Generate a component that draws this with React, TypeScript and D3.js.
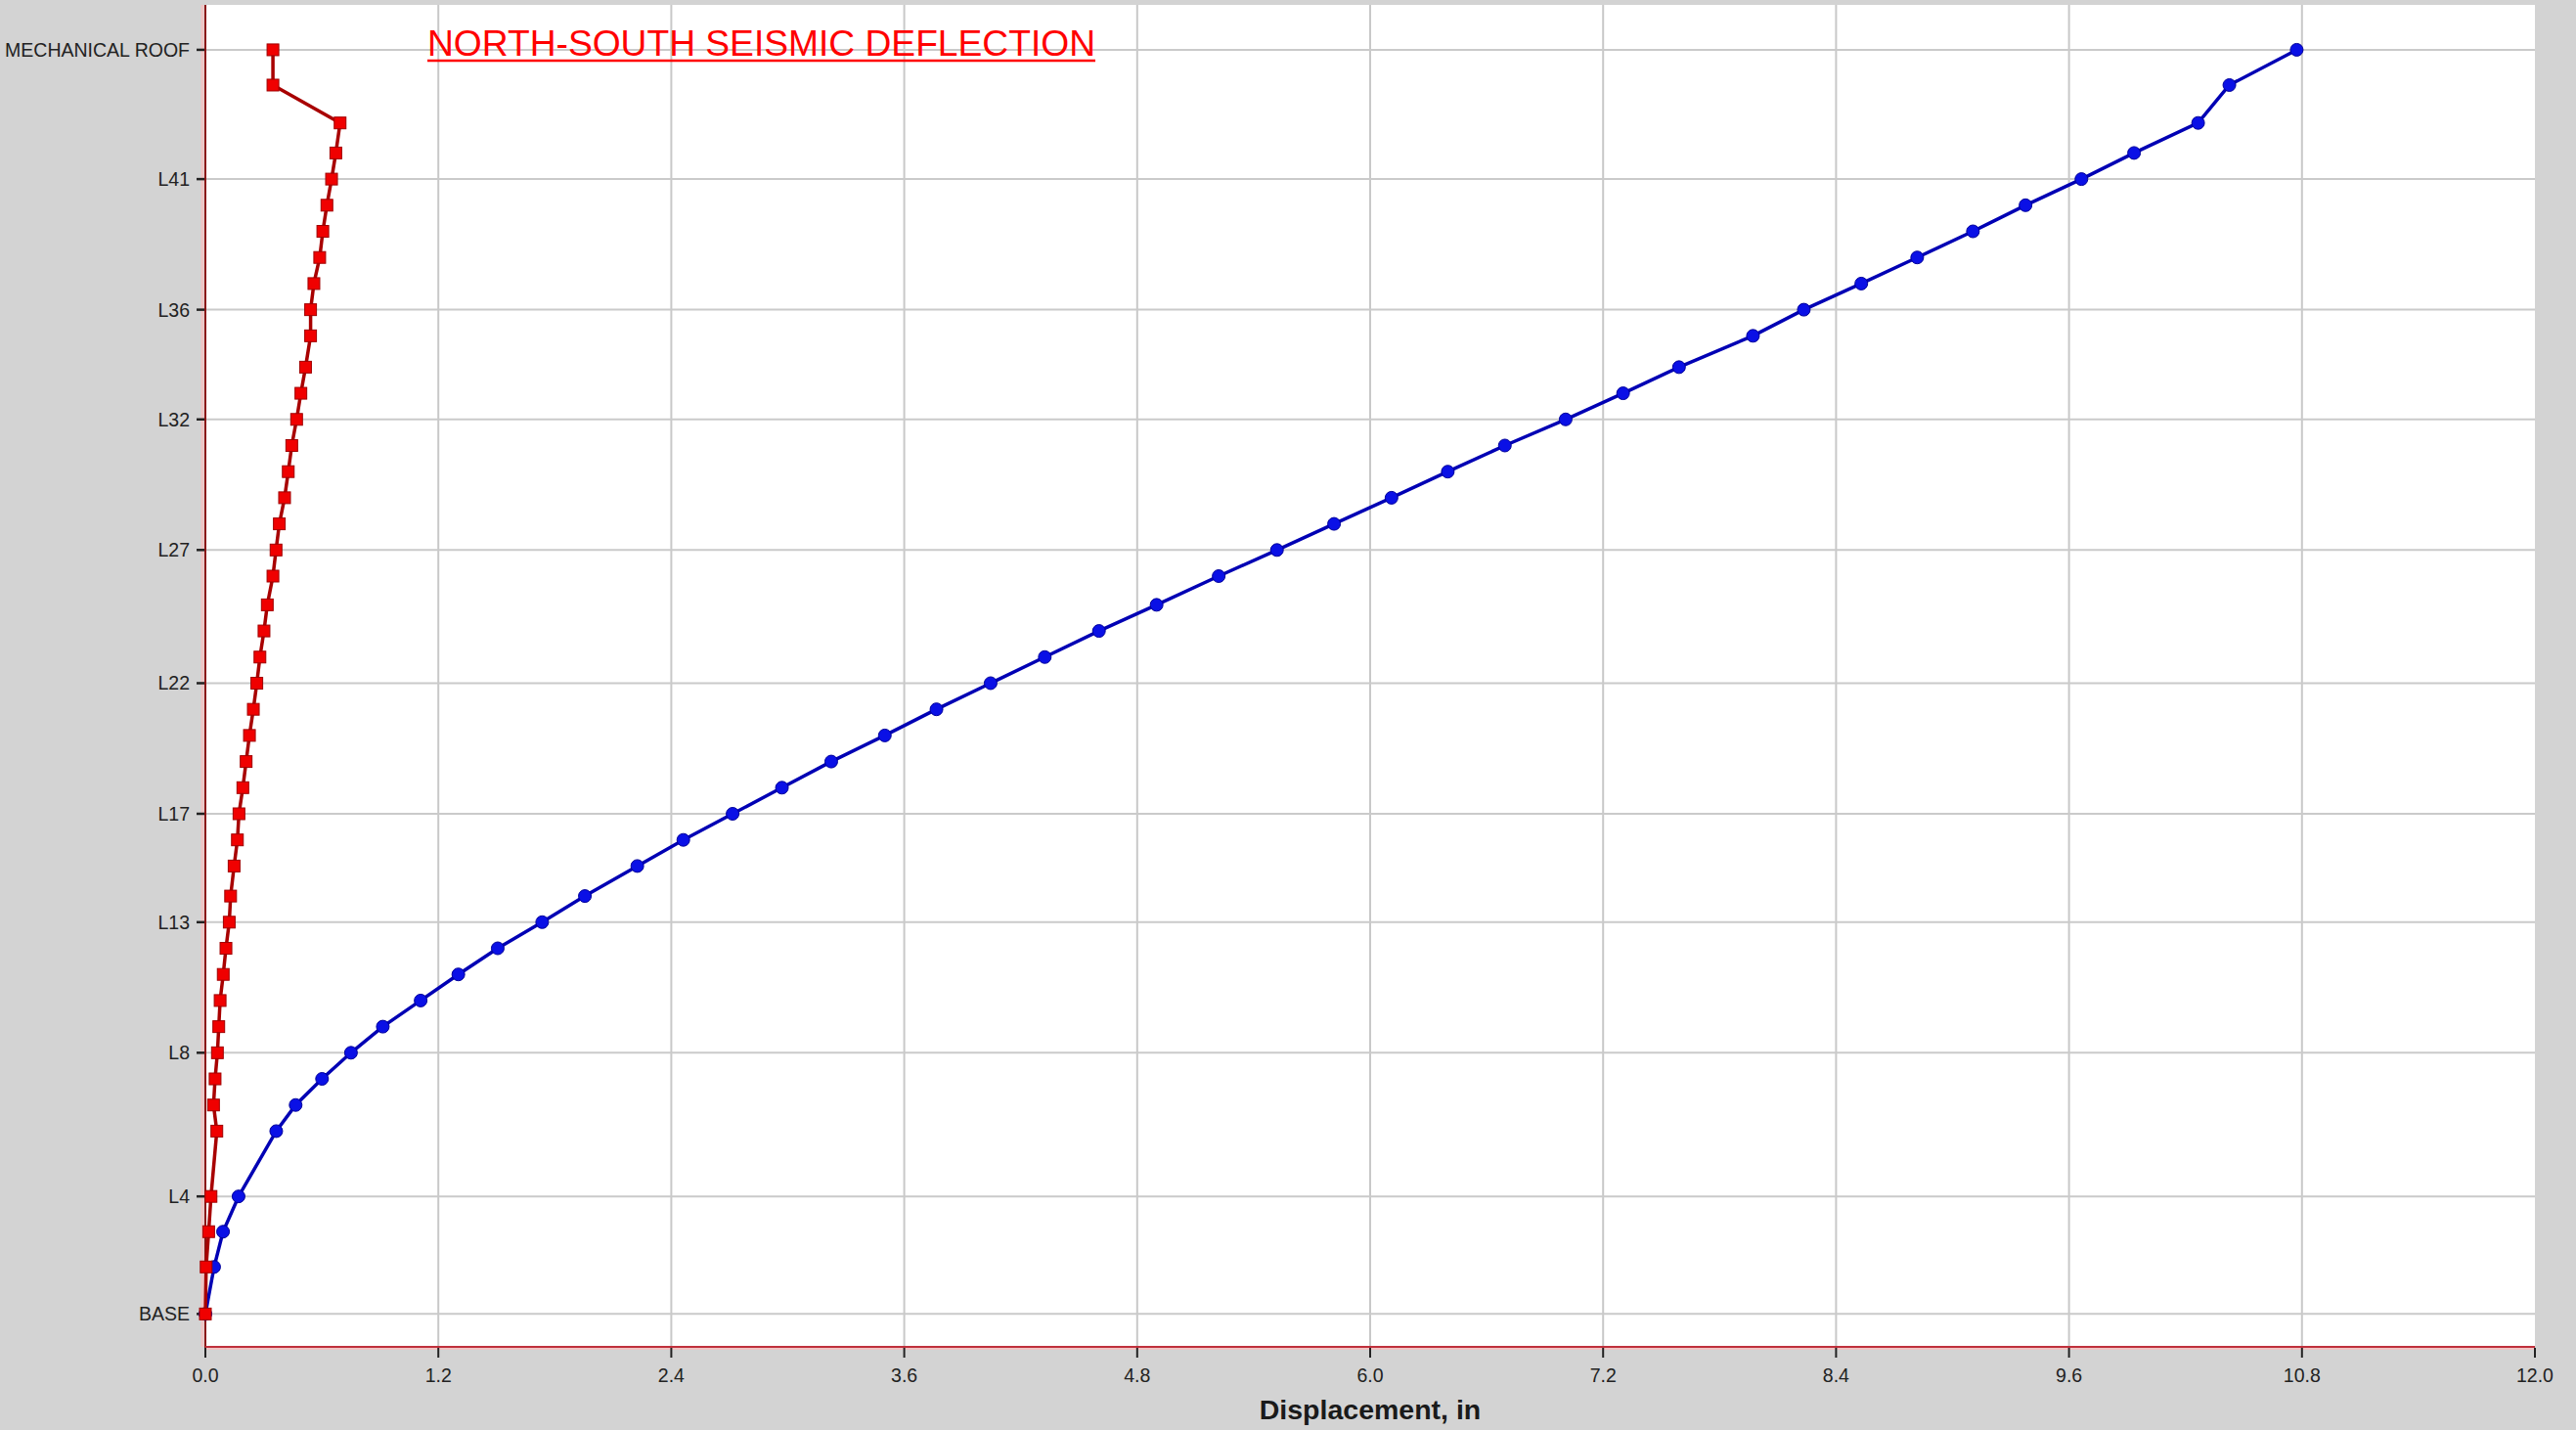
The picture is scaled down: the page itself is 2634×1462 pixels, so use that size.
import React from 'react';
import * as d3 from 'd3';

// floor levels (bottom to top) and their elevations, ft
const levels = [
  'BASE', 'L2', 'L3', 'L4', 'L5', 'L6', 'L7', 'L8', 'L9', 'L10',
  'L11', 'L12', 'L13', 'L14', 'L15', 'L16', 'L17', 'L18', 'L19', 'L20',
  'L21', 'L22', 'L23', 'L24', 'L25', 'L26', 'L27', 'L28', 'L29', 'L30',
  'L31', 'L32', 'L33', 'L34', 'L35', 'L36', 'L37', 'L38', 'L39', 'L40',
  'L41', 'L42', 'L43', 'ROOF', 'MECHANICAL ROOF',
];
const elevations = [
  0, 18, 31.5, 45, 70, 80, 90, 100, 110, 120,
  130, 140, 150, 160, 171.5, 181.5, 191.5, 201.5, 211.5, 221.5,
  231.5, 241.5, 251.5, 261.5, 271.5, 282.5, 292.5, 302.5, 312.5, 322.5,
  332.5, 342.5, 352.5, 362.5, 374.5, 384.5, 394.5, 404.5, 414.5, 424.5,
  434.5, 444.5, 456, 470.5, 484,
];

// displacement, in
const blueDisp = [
  0, 0.045, 0.091, 0.171, 0.365, 0.465, 0.601, 0.75, 0.914, 1.109,
  1.303, 1.506, 1.735, 1.955, 2.225, 2.462, 2.716, 2.97, 3.224, 3.5,
  3.766, 4.045, 4.324, 4.603, 4.9, 5.22, 5.52, 5.814, 6.11, 6.4,
  6.694, 7.007, 7.303, 7.591, 7.972, 8.234, 8.53, 8.818, 9.105, 9.376,
  9.664, 9.935, 10.265, 10.426, 10.773,
];
const redDisp = [
  0, 0.004, 0.017, 0.029, 0.059, 0.042, 0.05, 0.062, 0.069, 0.076,
  0.092, 0.106, 0.123, 0.13, 0.148, 0.165, 0.173, 0.193, 0.21, 0.227,
  0.247, 0.265, 0.281, 0.302, 0.319, 0.348, 0.364, 0.381, 0.408, 0.427,
  0.445, 0.47, 0.492, 0.516, 0.542, 0.542, 0.559, 0.589, 0.605, 0.626,
  0.65, 0.672, 0.694, 0.348, 0.348,
];

const labeledLevels = ['BASE', 'L4', 'L8', 'L13', 'L17', 'L22', 'L27', 'L32', 'L36', 'L41', 'MECHANICAL ROOF'];
const xTicks = [0, 1.2, 2.4, 3.6, 4.8, 6.0, 7.2, 8.4, 9.6, 10.8, 12.0];

const title = 'NORTH-SOUTH SEISMIC DEFLECTION';
const xTitle = 'Displacement, in';

const W = 2634;
const H = 1462;
const plot = { left: 210, right: 2592, top: 5, bottom: 1377 };

export default function App() {
  const x = d3.scaleLinear().domain([0, 12]).range([plot.left, plot.right]);
  const y = d3.scaleLinear().domain([-12.6, 501.2]).range([plot.bottom, plot.top]);

  const elevOf = (name: string) => elevations[levels.indexOf(name)];

  const line = d3.line<number>()
    .x(d => x(d))
    .y((_, i) => y(elevations[i]));

  const font = '"Liberation Sans", Arial, sans-serif';

  return (
    <svg
      width={W}
      height={H}
      style={{ position: 'absolute', left: 0, top: 0, display: 'block' }}
    >
      <rect x={0} y={0} width={W} height={H} fill="#d3d3d3" />
      <rect x={plot.left} y={plot.top} width={plot.right - plot.left} height={plot.bottom - plot.top} fill="#ffffff" />

      {/* grid */}
      {xTicks.slice(1, -1).map(t => (
        <line key={'vx' + t} x1={x(t)} x2={x(t)} y1={plot.top} y2={plot.bottom} stroke="#c8c8c8" strokeWidth={2} />
      ))}
      {labeledLevels.map(l => (
        <line key={'hy' + l} x1={plot.left} x2={plot.right} y1={y(elevOf(l))} y2={y(elevOf(l))} stroke="#cacaca" strokeWidth={2} />
      ))}

      {/* axes */}
      <line x1={plot.left - 3} x2={plot.left - 3} y1={plot.top} y2={plot.bottom} stroke="#f0c4c4" strokeWidth={3} />
      <line x1={plot.left} x2={plot.left} y1={plot.top} y2={plot.bottom + 1} stroke="#8b1414" strokeWidth={2} />
      <line x1={plot.left} x2={plot.right} y1={plot.bottom + 2} y2={plot.bottom + 2} stroke="#f0c4c4" strokeWidth={2} />
      <line x1={plot.left} x2={plot.right} y1={plot.bottom} y2={plot.bottom} stroke="#c0303c" strokeWidth={2} />

      {labeledLevels.map(l => (
        <g key={'yt' + l}>
          <line x1={plot.left - 9} x2={plot.left - 1} y1={y(elevOf(l))} y2={y(elevOf(l))} stroke="#222" strokeWidth={2.5} />
          <text x={plot.left - 16} y={y(elevOf(l)) + 7} textAnchor="end" fontFamily={font} fontSize={19.5} fill="#222">
            {l}
          </text>
        </g>
      ))}

      {xTicks.map(t => (
        <g key={'xt' + t}>
          <line x1={x(t)} x2={x(t)} y1={plot.bottom + 1} y2={plot.bottom + 11} stroke="#222" strokeWidth={2} />
          <text x={x(t)} y={plot.bottom + 36} textAnchor="middle" fontFamily={font} fontSize={19.5} fill="#222">
            {d3.format('.1f')(t)}
          </text>
        </g>
      ))}

      <text x={(plot.left + plot.right) / 2} y={1451} textAnchor="middle" fontFamily={font} fontWeight="bold" fontSize={28.5} fill="#1a1a1a">
        {xTitle}
      </text>

      {/* series */}
      <path d={line(blueDisp) || ''} fill="none" stroke="#0000b4" strokeWidth={3.5} />
      {blueDisp.map((d, i) => (
        <circle key={'b' + i} cx={x(d)} cy={y(elevations[i])} r={6.5} fill="#0a10e6" stroke="#00009a" strokeWidth={1} />
      ))}

      <path d={line(redDisp) || ''} fill="none" stroke="#a80000" strokeWidth={3.5} />
      {redDisp.map((d, i) => (
        <rect key={'r' + i} x={x(d) - 6} y={y(elevations[i]) - 6} width={12} height={12} fill="#f00000" stroke="#a00000" strokeWidth={1} />
      ))}

      {/* title */}
      <text x={437} y={57} fontFamily={'"Liberation Sans Narrow", "Arial Narrow", ' + font} fontSize={37} fill="#ff0000" textLength={683} lengthAdjust="spacingAndGlyphs">
        {title}
      </text>
      <line x1={437} x2={1120} y1={62} y2={62} stroke="#ff0000" strokeWidth={2.5} />
    </svg>
  );
}
